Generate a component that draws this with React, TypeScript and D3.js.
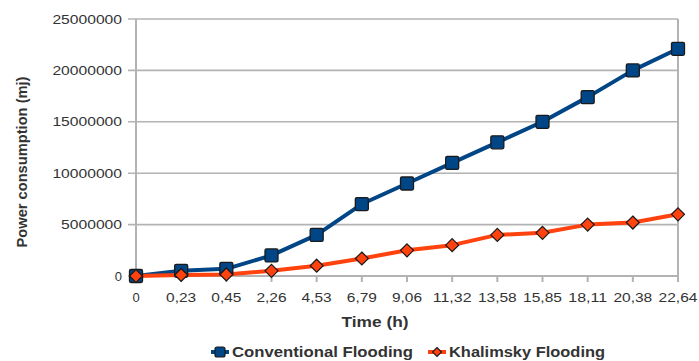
import React from "react";
import * as d3 from "d3";

const timeLabels = ["0", "0,23", "0,45", "2,26", "4,53", "6,79", "9,06", "11,32", "13,58", "15,85", "18,11", "20,38", "22,64"];
const conventional = [0, 500000, 700000, 2000000, 4000000, 7000000, 9000000, 11000000, 13000000, 15000000, 17400000, 20000000, 22100000];
const khalimsky = [0, 100000, 150000, 500000, 1000000, 1700000, 2500000, 3000000, 4000000, 4200000, 5000000, 5200000, 6000000];
const yTicks = [0, 5000000, 10000000, 15000000, 20000000, 25000000];
const seriesNames = ["Conventional Flooding", "Khalimsky Flooding"];

const W = 699;
const H = 361;
const left = 136;
const right = 678;
const top = 19;
const bottom = 276;

const BLUE = "#004586";
const ORANGE = "#ff420e";
const GRID = "#b3b3b3";
const TEXT = "#333333";
const FONT = "'Liberation Sans', Arial, sans-serif";

export default function App() {
  const x = d3.scalePoint<string>().domain(timeLabels).range([left, right]);
  const y = d3.scaleLinear().domain([0, 25000000]).range([bottom, top]);
  const line = d3
    .line<number>()
    .x((_, i) => x(timeLabels[i]) as number)
    .y((d) => y(d));

  const sq = 13;
  const dm = 6.5;
  const diamond = (cx: number, cy: number, r: number) =>
    `M${cx},${cy - r}L${cx + r},${cy}L${cx},${cy + r}L${cx - r},${cy}Z`;

  return (
    <svg
      width={W}
      height={H}
      style={{ position: "absolute", left: 0, top: 0, background: "#fff" }}
      fontFamily={FONT}
    >
      {/* horizontal grid and y tick labels */}
      {yTicks.map((t) => (
        <g key={t}>
          <line x1={left - 8} x2={right} y1={y(t)} y2={y(t)} stroke={GRID} strokeWidth={1.6} />
          <text
            x={122}
            y={y(t)}
            dy="0.35em"
            textAnchor="end"
            fontSize={13}
            fill={TEXT}
            textLength={t === 0 ? undefined : String(t).length * 8.7}
            lengthAdjust="spacingAndGlyphs"
          >
            {String(t)}
          </text>
        </g>
      ))}
      {/* axes */}
      <line x1={left} x2={left} y1={top} y2={bottom} stroke={GRID} strokeWidth={2} />
      <line x1={right} x2={right} y1={top} y2={bottom + 6} stroke={GRID} strokeWidth={2} />
      <line x1={left} x2={right} y1={bottom} y2={bottom} stroke={GRID} strokeWidth={2} />
      {timeLabels.map((l) => (
        <g key={l}>
          <line x1={x(l)} x2={x(l)} y1={bottom} y2={bottom + 6} stroke={GRID} strokeWidth={2} />
          <text
            x={x(l)}
            y={302}
            textAnchor="middle"
            fontSize={13}
            fill={TEXT}
            textLength={l.length === 1 ? undefined : l.replace(",", "").length * 8.7 + 4}
            lengthAdjust="spacingAndGlyphs"
          >
            {l}
          </text>
        </g>
      ))}

      {/* series */}
      <path d={line(conventional) ?? ""} fill="none" stroke={BLUE} strokeWidth={4} strokeLinejoin="round" />
      <path d={line(khalimsky) ?? ""} fill="none" stroke={ORANGE} strokeWidth={4} strokeLinejoin="round" />
      {conventional.map((v, i) => (
        <rect
          key={"c" + i}
          x={(x(timeLabels[i]) as number) - sq / 2}
          y={y(v) - sq / 2}
          width={sq}
          height={sq}
          rx={1.5}
          fill={BLUE}
          stroke="#1a1a1a"
          strokeWidth={1.3}
        />
      ))}
      {khalimsky.map((v, i) => (
        <path
          key={"k" + i}
          d={diamond(x(timeLabels[i]) as number, y(v), dm)}
          fill={ORANGE}
          stroke="#1a1a1a"
          strokeWidth={1.2}
        />
      ))}

      {/* axis titles */}
      <text x={375} y={327} textAnchor="middle" fontSize={14} fontWeight="bold" fill={TEXT} textLength={67} lengthAdjust="spacingAndGlyphs">
        Time (h)
      </text>
      <text
        transform="translate(27,162) rotate(-90)"
        textAnchor="middle"
        fontSize={14}
        fontWeight="bold"
        fill={TEXT}
        textLength={171}
        lengthAdjust="spacingAndGlyphs"
      >
        Power consumption (mj)
      </text>

      {/* legend */}
      <g>
        <line x1={211} x2={229} y1={352} y2={352} stroke={BLUE} strokeWidth={4} />
        <rect x={215} y={347} width={10} height={10} rx={2} fill={BLUE} stroke="#1a1a1a" strokeWidth={1.2} />
        <text x={232} y={357} fontSize={14} fontWeight="bold" fill={TEXT} textLength={181} lengthAdjust="spacingAndGlyphs">
          {seriesNames[0]}
        </text>
        <line x1={428} x2={446} y1={352} y2={352} stroke={ORANGE} strokeWidth={4} />
        <path d={diamond(437, 352, 4.5)} fill={ORANGE} stroke="#1a1a1a" strokeWidth={1.1} />
        <text x={449} y={357} fontSize={14} fontWeight="bold" fill={TEXT} textLength={156} lengthAdjust="spacingAndGlyphs">
          {seriesNames[1]}
        </text>
      </g>
    </svg>
  );
}
